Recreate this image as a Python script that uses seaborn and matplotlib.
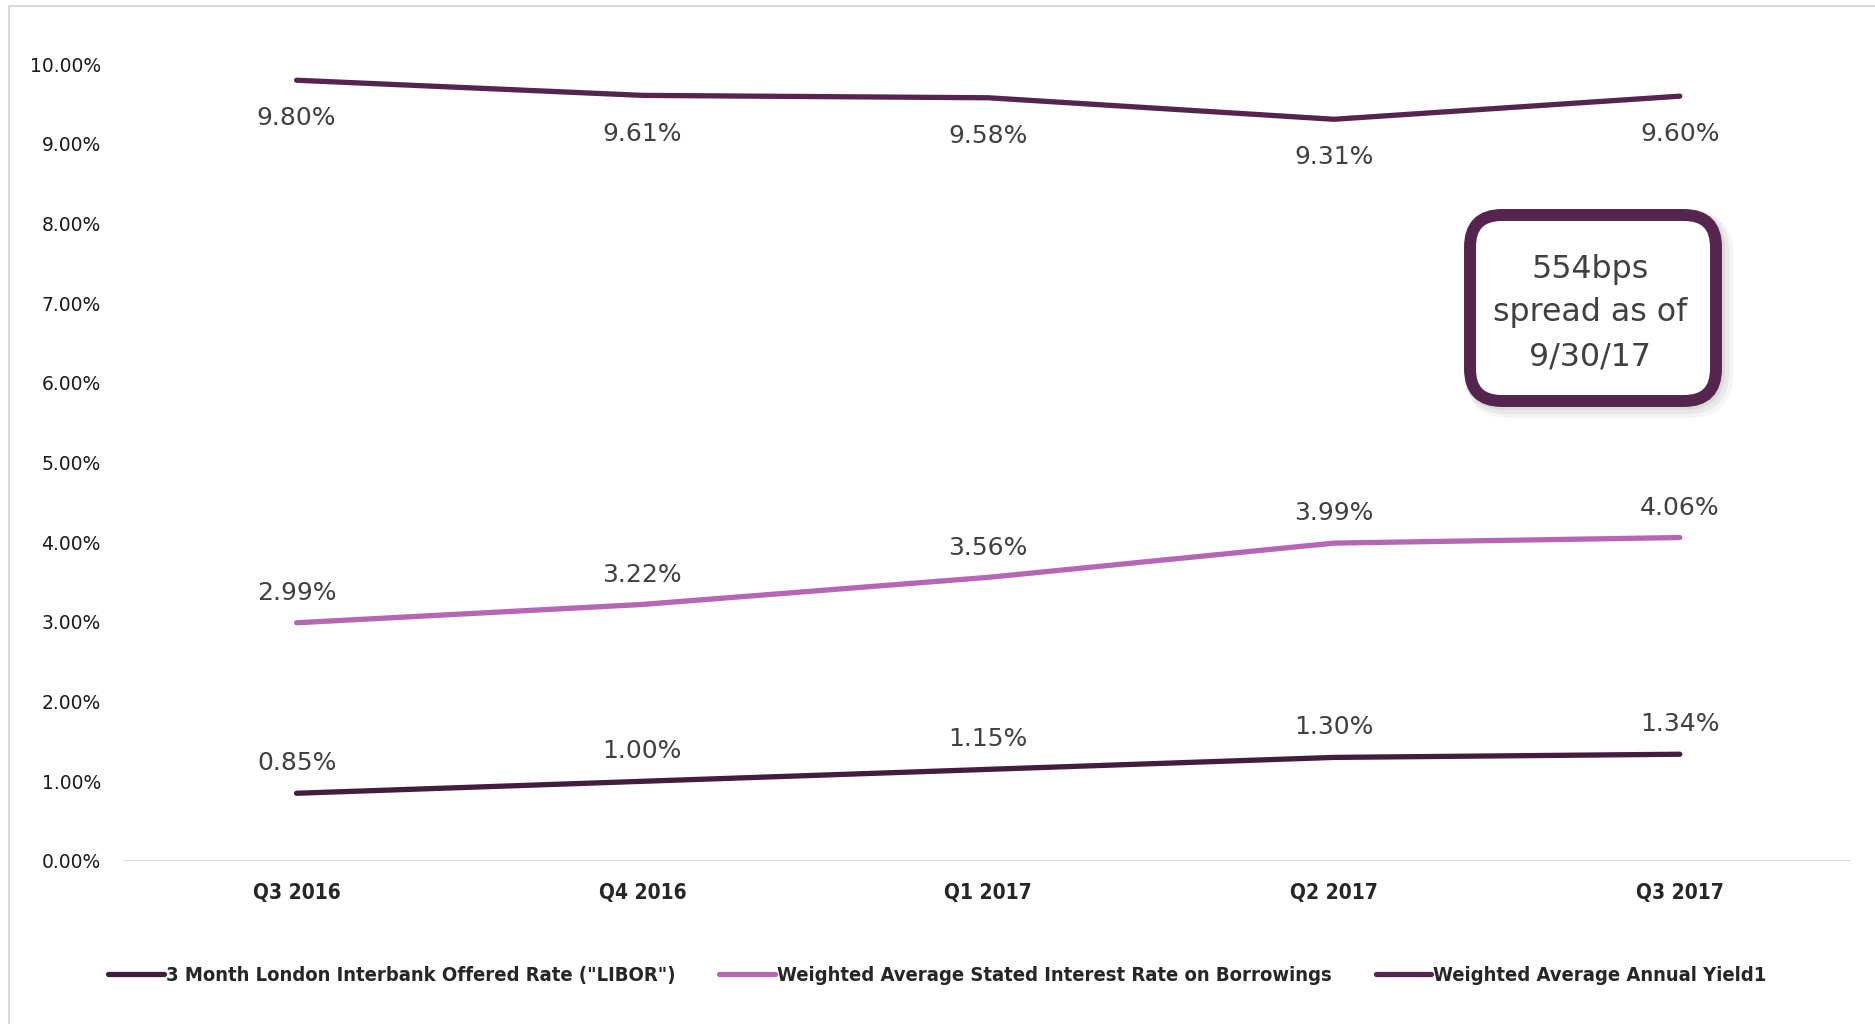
import matplotlib
matplotlib.use("Agg")
import matplotlib.pyplot as plt
from matplotlib import font_manager
from matplotlib.font_manager import FontProperties
from matplotlib.patches import FancyBboxPatch
from matplotlib.lines import Line2D
from matplotlib.transforms import IdentityTransform
import seaborn as sns
import pandas as pd

quarters = ["Q3 2016", "Q4 2016", "Q1 2017", "Q2 2017", "Q3 2017"]
libor = [0.85, 1.00, 1.15, 1.30, 1.34]
stated_rate = [2.99, 3.22, 3.56, 3.99, 4.06]
annual_yield = [9.80, 9.61, 9.58, 9.31, 9.60]
series_names = ['3 Month London Interbank Offered Rate ("LIBOR")',
                'Weighted Average Stated Interest Rate on Borrowings',
                'Weighted Average Annual Yield1']
y_ticks = [0, 1, 2, 3, 4, 5, 6, 7, 8, 9, 10]
box_text = "554bps\nspread as of\n9/30/17"

colors = ["#421D3D", "#B566B5", "#56254F"]

sns.set_theme(style="white")
plt.rcParams['font.family'] = ['DejaVu Sans']

# find a condensed bold font if one is installed
cond_fp = None
cands = []
for f in font_manager.fontManager.ttflist:
    nm = (f.name + " " + str(f.fname)).lower()
    is_cond = ("narrow" in nm or "condensed" in nm or
               str(f.stretch) in ("condensed", "semi-condensed", "extra-condensed", "500", "300"))
    w = f.weight if isinstance(f.weight, int) else {"bold": 700, "semibold": 600}.get(str(f.weight), 400)
    if is_cond and w >= 600:
        cands.append(f)
if cands:
    cands.sort(key=lambda f: (0 if "liberation" in f.fname.lower() else
                              1 if "dejavu" in f.fname.lower() else 2))
    cond_fp = cands[0].fname

def narrow_prop(size):
    if cond_fp:
        return FontProperties(fname=cond_fp, size=size)
    return FontProperties(family="DejaVu Sans", weight="bold", size=size * 0.93)

df = pd.DataFrame({
    "quarter": quarters * 3,
    "x": list(range(len(quarters))) * 3,
    "value": libor + stated_rate + annual_yield,
    "series": [series_names[0]] * 5 + [series_names[1]] * 5 + [series_names[2]] * 5,
})

fig = plt.figure(figsize=(18.75, 10.24), dpi=100)
ax = fig.add_axes([0.0656, 0.1592, 0.9214, 0.778])
sns.lineplot(data=df, x="x", y="value", hue="series", palette=colors,
             linewidth=3.8, ax=ax, legend=False, solid_capstyle="round")
for l in ax.lines:
    l.set_clip_on(False)

ax.set_xlim(-0.502, 4.494)
ax.set_ylim(0, 10)
ax.set_xticks(range(len(quarters)))
ax.set_xticklabels(quarters, fontproperties=narrow_prop(15))
ax.set_yticks(y_ticks)
ax.set_yticklabels([f"{v:.2f}%" for v in y_ticks], fontsize=13.5, color="#1a1a1a")
ax.tick_params(axis="x", length=0, pad=16)
ax.tick_params(axis="y", length=0, pad=16)
ax.set_xlabel("")
ax.set_ylabel("")
for s in ax.spines.values():
    s.set_visible(False)
ax.axhline(0, color="#BDD7EE", lw=1.8, zorder=0)
ax.grid(False)

for i, v in enumerate(libor):
    ax.annotate(f"{v:.2f}%", (i, v), xytext=(0, 22), textcoords="offset points",
                ha="center", va="center", fontsize=18, color="#404040")
for i, v in enumerate(stated_rate):
    ax.annotate(f"{v:.2f}%", (i, v), xytext=(0, 21.5), textcoords="offset points",
                ha="center", va="center", fontsize=18, color="#404040")
for i, v in enumerate(annual_yield):
    ax.annotate(f"{v:.2f}%", (i, v), xytext=(0, -27.5), textcoords="offset points",
                ha="center", va="center", fontsize=18, color="#404040")

# callout box (pixel coordinates)
for k, a in enumerate([0.12, 0.10, 0.08]):
    sh = FancyBboxPatch((1472 + 2 * k, 1024 - 403 - 2 * k), 246, 186,
                        boxstyle="round,pad=0,rounding_size=32",
                        transform=IdentityTransform(), fc="none", ec="#808080",
                        lw=10 + 3 * k, alpha=a, zorder=4)
    fig.patches.append(sh)
box = FancyBboxPatch((1470, 1024 - 401), 246, 186,
                     boxstyle="round,pad=0,rounding_size=32",
                     transform=IdentityTransform(), fc="white", ec="#56254F",
                     lw=8.6, zorder=5)
fig.patches.append(box)
fig.text(1590 / 1875, 1 - 313 / 1024, box_text, ha="center", va="center",
         fontsize=22.8, color="#404040", linespacing=1.53, zorder=6)

# figure border
fig.add_artist(Line2D([9 / 1875, 9 / 1875], [0, 1 - 6 / 1024], color="#d9d9d9", lw=1.5))
fig.add_artist(Line2D([9 / 1875, 1], [1 - 6 / 1024, 1 - 6 / 1024], color="#d9d9d9", lw=1.5))

handles = [Line2D([0], [0], color=c, lw=3.8, solid_capstyle="round") for c in colors]
fig.legend(handles, series_names, loc="center", bbox_to_anchor=(0.5, 0.047),
           ncol=3, frameon=False, handlelength=2.75, handletextpad=0.1,
           columnspacing=2.2, prop=narrow_prop(14.5))

fig.savefig("out.png", dpi=100)
